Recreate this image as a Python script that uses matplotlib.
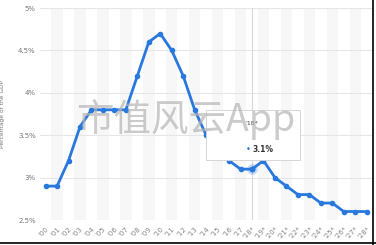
import matplotlib.pyplot as plt

years = list(range(2000, 2029))
values = [2.9, 2.9, 3.2, 3.6, 3.8, 3.8, 3.8, 3.8, 4.2, 4.6, 4.7, 4.5, 4.2, 3.8,
          3.5, 3.4, 3.2, 3.1, 3.1, 3.2, 3.0, 2.9, 2.8, 2.8, 2.7, 2.7, 2.6, 2.6, 2.6]
labels = ["'%02d" % (y % 100) + ("*" if y >= 2018 else "") for y in years]
yticks = [2.5, 3, 3.5, 4, 4.5, 5]
ytick_labels = ["2.5%", "3%", "3.5%", "4%", "4.5%", "5%"]
hl = 18  # hovered point ('18*)

blue = "#2878de"
grey = "#777777"

fig = plt.figure(figsize=(3.76, 2.45), dpi=100)
ax = fig.add_axes([0.106, 0.102, 0.883, 0.865])
x = list(range(len(years)))

# striped background on odd years
for i in x:
    if i % 2 == 1:
        ax.axvspan(i - 0.5, i + 0.5, color="#f7f7f7", zorder=0, lw=0)

for t in yticks:
    ax.axhline(t, color="#e6e6e6", lw=0.8, zorder=1)
ax.axvline(hl, color="#d8d8d8", lw=0.8, zorder=1)

ax.plot(x, values, color=blue, lw=2.0, marker="o", ms=3, zorder=3)
ax.scatter([hl], [values[hl]], s=60, color=blue, alpha=0.25, zorder=4, lw=0)
ax.scatter([hl], [values[hl]], s=18, color=blue, zorder=5, lw=0)

ax.set_xlim(-0.5, 28.45)
ax.set_ylim(2.5, 5)
ax.set_yticks(yticks)
ax.set_yticklabels(ytick_labels)
ax.set_xticks(x)
ax.set_xticklabels(labels, rotation=45, ha="right", rotation_mode="anchor")
ax.tick_params(axis="both", length=0, labelsize=5, colors=grey, pad=3)
ax.tick_params(axis="x", pad=4, colors="#888888")
for s in ax.spines.values():
    s.set_visible(False)
ax.set_ylabel("Percentage of the GDP", fontsize=4.3, color=grey, labelpad=9)

# tooltip
fig.patches.append(plt.Rectangle((206 / 376, 1 - 160 / 245), 94 / 376, 50 / 245,
                                 transform=fig.transFigure, facecolor="white",
                                 edgecolor="#d0d0d0", lw=0.6, zorder=20))
fig.text(252 / 376, 1 - 123 / 245, "'18*", fontsize=4.5, color="#444444",
         ha="center", va="center", zorder=21)
fig.text(248 / 376, 1 - 150 / 245, "\u2022", fontsize=6, color=blue,
         ha="center", va="center", zorder=21)
fig.text(253 / 376, 1 - 150 / 245, "3.1%", fontsize=5.5, color="#333333",
         fontweight="bold", ha="left", va="center", zorder=21)

# watermark (sits on top of everything, tooltip included)
fig.text(0.495, 0.51, "市值风云App", fontsize=27, color="#b5b5b5", alpha=0.7,
         ha="center", va="center", family=["Noto Sans CJK SC", "DejaVu Sans"],
         zorder=30)

# screenshot border on right and bottom
fig.lines.append(plt.Line2D([0.992, 0.992], [0, 1], transform=fig.transFigure,
                            color="black", lw=1.2))
fig.lines.append(plt.Line2D([0, 1], [0.008, 0.008], transform=fig.transFigure,
                            color="black", lw=1.2))

fig.savefig("out.png", dpi=100)
